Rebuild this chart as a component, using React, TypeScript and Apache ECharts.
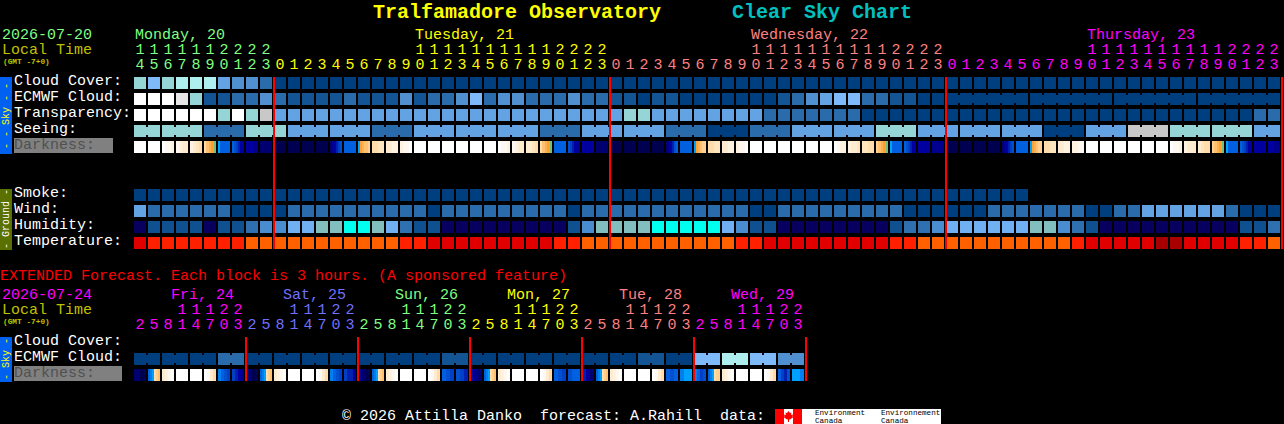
import React, { useEffect, useRef } from "react";
import * as echarts from "echarts";

const FONT = "'Liberation Mono', monospace";

const cloudPalette = ["#003f7f", "#135594", "#2a6bab", "#5090d0", "#63a3e3", "#7eb9f9", "#95d5d5", "#afeeee", "#c8c8c8", "#e6e6e6", "#ffffff"];
const humidityPalette = ["#08005f", "#0f5090", "#2f70b0", "#4a8cd0", "#70b0f2", "#82bebe", "#00ffee"];
const temperaturePalette = ["#a80000", "#e00000", "#ff2000", "#ff6000"];
const darknessPalette = ["#ffffff", "#fff8f0", "#fff2e0", "#ffecd0", "#ffe4c0", "#ffdcac", "#ffd090", "#ffc070", "#ffb050", "#ffa030", "#70c080", "#00a0ff", "#0080f0", "#0060e0", "#0050d0", "#0040c8", "#0020b0", "#0000a0", "#000090", "#000070", "#000050"];

const cloudCover = [6, 5, 6, 7, 7, 7, 4, 3, 3, 2,
  0, 0, 0, 0, 0, 0, 0, 0, 0, 0, 0, 0, 0, 0, 0, 0, 0, 0, 0, 0, 0, 0, 0, 0,
  0, 0, 0, 0, 0, 0, 0, 0, 0, 0, 0, 0, 0, 0, 0, 0, 0, 0, 0, 0, 0, 0, 0, 0,
  0, 0, 0, 0, 0, 0, 0, 0, 0, 0, 0, 0, 0, 0, 0, 0, 0, 0, 0, 0, 0, 0, 0, 0];
const ecmwfCloud = [10, 10, 10, 9, 6, 1, 1, 2, 2, 3,
  2, 1, 1, 1, 1, 2, 1, 1, 1, 3, 1, 2, 2, 3, 5, 2, 3, 3, 2, 2, 2, 3, 2, 2,
  1, 1, 0, 1, 1, 0, 0, 0, 0, 0, 0, 0, 1, 2, 3, 4, 5, 5, 2, 2, 1, 1, 0, 0,
  0, 0, 0, 0];
const ecmwfSpans = [1, 1, 1, 1, 1, 1, 1, 1, 1, 1,
  1, 1, 1, 1, 1, 1, 1, 1, 1, 1, 1, 1, 1, 1, 1, 1, 1, 1, 1, 1, 1, 1, 1, 1,
  1, 1, 1, 1, 1, 1, 1, 1, 1, 1, 1, 1, 1, 1, 1, 1, 1, 1, 1, 1, 1, 1, 1, 1,
  6, 6, 6, 6];
const transparency = [10, 10, 10, 10, 10, 10, 6, 10, 6, 8,
  4, 4, 4, 4, 4, 4, 4, 4, 4, 4, 4, 4, 4, 4, 4, 4, 4, 4, 4, 4, 4, 4, 4, 4,
  4, 6, 6, 4, 4, 4, 4, 4, 4, 4, 4, 2, 2, 2, 2, 2, 2, 2, 0, 0, 0, 0, 0, 0,
  0, 0, 0, 0, 0, 0, 0, 0, 0, 0, 0, 0, 0, 0, 0, 0, 0, 0, 0, 0, 0, 0, 2, 2];
const seeingBlocks = [6, 6, 2, 6, 4, 4, 2, 4, 4, 4, 2, 4, 4, 2, 0, 2, 4, 4, 6, 4, 4, 4, 0, 4, 8, 6, 6, 4];
const seeingSpans = [2, 3, 3, 3, 3, 3, 3, 3, 3, 3, 3, 3, 3, 3, 3, 3, 3, 3, 3, 3, 3, 3, 3, 3, 3, 3, 3, 2];
const smoke = [0, 0, 0, 0, 0, 0, 0, 0, 0, 0,
  0, 0, 0, 0, 0, 0, 0, 0, 0, 0, 0, 0, 0, 0, 0, 0, 0, 0, 0, 0, 0, 0, 0, 0,
  0, 0, 0, 0, 0, 0, 0, 0, 0, 0, 0, 0, 0, 0, 0, 0, 0, 0, 0, 0, 0, 0, 0, 0,
  0, 0, 0, 0, 0, 0];
const wind = [4, 2, 2, 2, 2, 2, 2, 0, 0, 0,
  0, 2, 2, 2, 2, 2, 2, 2, 2, 2, 2, 0, 2, 2, 2, 2, 2, 2, 2, 2, 2, 0, 2, 2,
  2, 2, 2, 2, 2, 2, 2, 2, 2, 2, 0, 0, 2, 2, 2, 2, 2, 2, 2, 2, 2, 0, 0, 0,
  0, 0, 0, 2, 2, 2, 2, 2, 2, 2, 0, 0, 2, 2, 4, 4, 4, 4, 4, 4, 2, 0, 0, 0];
const humidity = [0, 1, 1, 1, 1, 0, 1, 1, 2, 3,
  3, 4, 4, 5, 5, 6, 6, 5, 4, 2, 1, 1, 0, 0, 0, 0, 0, 0, 0, 0, 0, 1, 3, 5,
  5, 5, 5, 6, 6, 6, 6, 6, 4, 3, 1, 1, 0, 0, 0, 0, 0, 0, 0, 0, 1, 2, 2, 3,
  4, 4, 4, 4, 4, 4, 5, 5, 3, 2, 1, 0, 0, 0, 0, 0, 0, 0, 0, 0, 0, 1, 1, 2];
const temperature = [1, 2, 2, 2, 2, 2, 2, 2, 3, 3,
  3, 3, 3, 3, 3, 3, 3, 3, 3, 2, 2, 1, 1, 1, 1, 1, 1, 1, 1, 1, 2, 2, 3, 3,
  3, 3, 3, 3, 3, 3, 3, 3, 3, 2, 2, 1, 1, 1, 1, 1, 1, 1, 1, 1, 2, 2, 3, 3,
  3, 3, 3, 3, 3, 3, 3, 3, 3, 2, 1, 1, 1, 1, 1, 0, 0, 1, 1, 1, 1, 2, 2, 3];
const darkness = [
  [0], [0], [0, 1, 1, 2], [1, 2, 3, 3], [2, 3, 4, 5], [5, 7, 8, 9, 10], [11, 13, 13, 13, 13, 13], [13, 14, 15, 16, 17, 17], [17, 17, 18], [19],
  [20], [20], [20], [20], [19, 18, 17, 16, 15, 14], [13], [11, 9, 8, 7, 7, 6], [5, 5, 4, 4], [3, 3, 2, 2], [2, 1, 1, 0], [0], [0], [0], [0], [0], [0],
  [0, 1, 1, 2], [1, 2, 3, 3], [3, 3, 4, 5], [5, 7, 8, 9, 10], [13], [14, 15, 16, 17, 17, 18], [17], [19],
  [20], [20], [20], [20], [19, 18, 17, 16, 14, 13], [13], [11, 9, 8, 7, 6, 6], [5, 5, 4, 4], [3, 3, 2, 2], [2, 1, 1, 0], [0], [0], [0], [0], [0], [0],
  [0, 1, 2, 2], [2, 3, 3, 4], [4, 4, 5, 5], [6, 7, 8, 9, 10], [11, 13, 13, 13, 13, 13], [13, 14, 15, 16, 17, 17], [17], [18],
  [20], [20], [20], [20], [19, 18, 17, 16, 15, 14], [13], [11, 9, 8, 7, 6, 6], [5, 5, 4, 4], [3, 3, 2, 2], [2, 2, 1, 1], [0], [0], [0], [0], [0], [0],
  [0, 1, 1, 2], [2, 3, 3, 3], [3, 4, 5, 5], [6, 7, 8, 9, 10], [11, 13, 13, 13, 13, 13], [13, 14, 15, 16, 17, 17], [17], [17, 18],
];
const dayBoundaries = [10, 34, 58, 82];

const extEcmwf = [0, 0, 0, 2, 0, 0, 0, 0, 0, 0, 0, 1, 0, 0, 0, 0, 0, 0, 1, 0, 5, 7, 5, 3];
const extSpans = [2, 2, 2, 2, 2, 2, 2, 2, 2, 2, 2, 2, 2, 2, 2, 2, 2, 2, 2, 2, 2, 2, 2, 2];
const extDarkness = [
  [19, 20], [13, 12, 11, 5, 6, 7], [3, 2, 1, 0], [0], [0], [0, 1, 3, 5], [12, 13, 14, 15], [15, 16, 17, 18],
  [19, 20], [13, 12, 11, 5, 6, 7], [3, 2, 1, 0], [0], [0], [0, 1, 3, 5], [12, 13, 14, 15], [15, 16, 16, 17],
  [18, 19, 20], [13, 12, 11, 5, 6, 7], [3, 2, 1, 0], [0], [0], [0, 1, 3, 5], [13, 14, 15], [14, 15, 16],
  [17, 18, 19], [13, 12, 11, 5, 6, 7], [3, 2, 1, 0], [0], [0], [0, 1, 3, 5], [13, 14, 15], [14, 13, 13],
  [16, 17, 19], [13, 12, 11, 5, 6, 7], [3, 2, 1, 0], [0], [0], [0, 1, 3, 5], [13, 14, 13], [12, 11, 11],
  [12, 13, 15, 14], [13, 12, 11, 5, 6, 6], [3, 2, 1, 0], [0], [0], [0, 1, 3, 5], [13, 15, 16, 14], [11, 11, 12],
];
const extDayBoundaries = [8, 16, 24, 32, 40, 48];

const hourTens = ["1", "1", "1", "1", "1", "1", "2", "2", "2", "2",
  "", "", "", "", "", "", "", "", "", "", "1", "1", "1", "1", "1", "1", "1", "1", "1", "1", "2", "2", "2", "2",
  "", "", "", "", "", "", "", "", "", "", "1", "1", "1", "1", "1", "1", "1", "1", "1", "1", "2", "2", "2", "2",
  "", "", "", "", "", "", "", "", "", "", "1", "1", "1", "1", "1", "1", "1", "1", "1", "1", "2", "2", "2", "2"];
const hourOnes = ["4", "5", "6", "7", "8", "9", "0", "1", "2", "3",
  "0", "1", "2", "3", "4", "5", "6", "7", "8", "9", "0", "1", "2", "3", "4", "5", "6", "7", "8", "9", "0", "1", "2", "3",
  "0", "1", "2", "3", "4", "5", "6", "7", "8", "9", "0", "1", "2", "3", "4", "5", "6", "7", "8", "9", "0", "1", "2", "3",
  "0", "1", "2", "3", "4", "5", "6", "7", "8", "9", "0", "1", "2", "3", "4", "5", "6", "7", "8", "9", "0", "1", "2", "3"];
const dayNames = ["Monday, 20", "Tuesday, 21", "Wednesday, 22", "Thursday, 23"];
const dayStarts = [0, 20, 44, 68];
const dayColumnStarts = [0, 10, 34, 58, 82];
const dayColors = ["#80ff80", "#ffff00", "#ff8080", "#ff00ff"];

const extDayNames = ["Fri, 24", "Sat, 25", "Sun, 26", "Mon, 27", "Tue, 28", "Wed, 29"];
const extDayColors = ["#ff00ff", "#7070ff", "#80ff80", "#ffff00", "#ff8080", "#ff00ff"];
const extTens = ["", "", "", "1", "1", "1", "2", "2"];
const extOnes = ["2", "5", "8", "1", "4", "7", "0", "3"];

const mainLabels = ["Cloud Cover:", "ECMWF Cloud:", "Transparency:", "Seeing:"];
const groundLabels = ["Smoke:", "Wind:", "Humidity:", "Temperature:"];

function expand(values: number[], spans: number[]) {
  const out: { v: number; join: boolean }[] = [];
  values.forEach((v, i) => {
    for (let k = 0; k < spans[i]; k++) out.push({ v, join: k < spans[i] - 1 });
  });
  return out;
}

function blockSeries(grid: number, row: number, cells: { v: number; join: boolean }[], palette: string[]) {
  return {
    type: "custom",
    xAxisIndex: grid,
    yAxisIndex: grid,
    silent: true,
    encode: { x: 0, y: 1 },
    data: cells.map((c, i) => [i, row, c.v, c.join ? 1 : 0]),
    renderItem: (_p: any, api: any) => {
      const [x, y] = api.coord([api.value(0), api.value(1)]);
      const [w, h] = api.size([1, 1]);
      const fill = palette[api.value(2)];
      const children: any[] = [
        { type: "rect", shape: { x, y: y + 2, width: w - 2, height: h - 4 }, style: { fill } },
      ];
      if (api.value(3)) {
        children.push({ type: "rect", shape: { x: x + w - 2, y: y + 4, width: 2, height: h - 8 }, style: { fill } });
      }
      return { type: "group", children };
    },
  };
}

function plain(values: number[]) {
  return values.map((v) => ({ v, join: false }));
}

function darknessSeries(grid: number, row: number, cells: number[][]) {
  return {
    type: "custom",
    xAxisIndex: grid,
    yAxisIndex: grid,
    silent: true,
    encode: { x: 0, y: 1 },
    data: cells.map((_c, i) => [i, row]),
    renderItem: (_p: any, api: any) => {
      const col = api.value(0);
      const [x, y] = api.coord([col, api.value(1)]);
      const [w, h] = api.size([1, 1]);
      const strips = cells[col];
      const stops: any[] = [];
      strips.forEach((lv, i) => {
        stops.push({ offset: i / strips.length, color: darknessPalette[lv] });
        stops.push({ offset: (i + 1) / strips.length, color: darknessPalette[lv] });
      });
      const fill = strips.length === 1
        ? darknessPalette[strips[0]]
        : new echarts.graphic.LinearGradient(0, 0, 1, 0, stops);
      return { type: "rect", shape: { x, y: y + 2, width: w - 2, height: h - 4 }, style: { fill } };
    },
  };
}

function boundarySeries(grid: number, rows: number, cols: number[]) {
  return {
    type: "custom",
    xAxisIndex: grid,
    yAxisIndex: grid,
    silent: true,
    z: 5,
    encode: { x: 0 },
    data: cols.map((c) => [c]),
    renderItem: (_p: any, api: any) => {
      const [x, top] = api.coord([api.value(0), 0]);
      const [, bottom] = api.coord([api.value(0), rows]);
      return { type: "rect", shape: { x: x - 1, y: top + 2, width: 2, height: bottom - top - 4 }, style: { fill: "#ff0000" } };
    },
  };
}

function txt(text: string, x: number, y: number, fill: string, size = 15, extra: any = {}) {
  return {
    type: "text",
    x,
    y,
    silent: true,
    rotation: extra.rotation || 0,
    style: {
      text,
      fill,
      font: `${extra.bold ? "bold " : ""}${size}px ${FONT}`,
      textAlign: extra.align || "left",
      textVerticalAlign: "middle",
    },
  };
}

function headerTexts() {
  const out: any[] = [];
  const left = 134, step = 14;
  out.push(txt("Tralfamadore Observatory", 373, 12, "#ffff00", 20, { bold: true }));
  out.push(txt("Clear Sky Chart", 732, 12, "#00c0c0", 20, { bold: true }));
  out.push(txt("2026-07-20", 2, 35, "#80ff80"));
  out.push(txt("Local Time", 2, 50, "#c0c000"));
  out.push(txt("(GMT -7+0)", 3, 62, "#c0c000", 7.8, { bold: true }));
  dayNames.forEach((d, i) => out.push(txt(d, left + step * dayStarts[i] + 1, 35, dayColors[i])));
  hourOnes.forEach((h, i) => {
    const day = dayColumnStarts.findIndex((s, k) => i >= s && i < dayColumnStarts[k + 1]);
    const cx = left + step * i + 6;
    if (hourTens[i]) out.push(txt(hourTens[i], cx, 50, dayColors[day], 15, { align: "center" }));
    out.push(txt(h, cx, 65, dayColors[day], 15, { align: "center" }));
  });
  out.push({ type: "rect", silent: true, shape: { x: 0, y: 77, width: 12, height: 77 }, style: { fill: "#0060f0" } });
  out.push(txt("- - Sky - -", 6, 116, "#ffff00", 10, { align: "center", rotation: Math.PI / 2 }));
  out.push({ type: "rect", silent: true, shape: { x: 0, y: 189, width: 12, height: 61 }, style: { fill: "#5a7000" } });
  out.push(txt("- Ground -", 6, 219, "#ffffff", 10, { align: "center", rotation: Math.PI / 2 }));
  mainLabels.forEach((l, i) => out.push(txt(l, 14, 81 + 16 * i, "#ffffff")));
  out.push({ type: "rect", silent: true, shape: { x: 14, y: 138, width: 99, height: 15 }, style: { fill: "#808080" } });
  out.push(txt("Darkness:", 14, 145, "#505050"));
  groundLabels.forEach((l, i) => out.push(txt(l, 14, 193 + 16 * i, "#ffffff")));

  out.push(txt("EXTENDED Forecast. Each block is 3 hours. (A sponsored feature)", 0, 276, "#ff0000"));
  out.push(txt("2026-07-24", 2, 295, "#ff00ff"));
  out.push(txt("Local Time", 2, 310, "#c0c000"));
  out.push(txt("(GMT -7+0)", 3, 322, "#c0c000", 7.8, { bold: true }));
  extDayNames.forEach((d, day) => {
    out.push(txt(d, left + step * 8 * day + 37, 295, extDayColors[day]));
    extOnes.forEach((h, i) => {
      const cx = left + step * (8 * day + i) + 6;
      if (extTens[i]) out.push(txt(extTens[i], cx, 310, extDayColors[day], 15, { align: "center" }));
      out.push(txt(h, cx, 325, extDayColors[day], 15, { align: "center" }));
    });
  });
  out.push({ type: "rect", silent: true, shape: { x: 0, y: 337, width: 12, height: 45 }, style: { fill: "#0060f0" } });
  out.push(txt("- Sky -", 6, 359, "#ffff00", 10, { align: "center", rotation: Math.PI / 2 }));
  out.push(txt("Cloud Cover:", 14, 341, "#ffffff"));
  out.push(txt("ECMWF Cloud:", 14, 357, "#ffffff"));
  out.push({ type: "rect", silent: true, shape: { x: 14, y: 366, width: 108, height: 15 }, style: { fill: "#808080" } });
  out.push(txt("Darkness:", 14, 373, "#505050"));

  out.push(txt("\u00a9 2026 Attilla Danko  forecast: A.Rahill  data:", 342, 416, "#ffffff"));
  out.push({ type: "rect", silent: true, shape: { x: 775, y: 409, width: 166, height: 15 }, style: { fill: "#ffffff" } });
  out.push({ type: "rect", silent: true, shape: { x: 775, y: 409, width: 9, height: 15 }, style: { fill: "#ff0000" } });
  out.push({ type: "rect", silent: true, shape: { x: 793, y: 409, width: 9, height: 15 }, style: { fill: "#ff0000" } });
  out.push({
    type: "polygon",
    silent: true,
    shape: { points: [[788.5, 411], [790, 413], [791.5, 412.5], [791, 415], [793, 414.5], [792.5, 416.5], [793.5, 417], [790, 419.5], [789, 419.5], [789, 422], [788, 422], [788, 419.5], [787, 419.5], [783.5, 417], [784.5, 416.5], [784, 414.5], [786, 415], [785.5, 412.5], [787, 413]] },
    style: { fill: "#ff0000" },
  });
  out.push(txt("Environment", 815, 413, "#000000", 7.6));
  out.push(txt("Canada", 815, 420.5, "#000000", 7.6));
  out.push(txt("Environnement", 881, 413, "#000000", 7.6));
  out.push(txt("Canada", 881, 420.5, "#000000", 7.6));
  return out;
}

export default function App() {
  const ref = useRef<HTMLDivElement>(null);
  useEffect(() => {
    document.body.style.margin = "0";
    document.body.style.background = "#000";
    const chart = echarts.init(ref.current!, undefined, { renderer: "svg" });
    const hiddenX = (max: number, gridIndex: number) => ({ type: "value", min: 0, max, show: false, gridIndex, splitLine: { show: false } });
    const hiddenY = (max: number, gridIndex: number) => ({ type: "value", min: 0, max, inverse: true, show: false, gridIndex, splitLine: { show: false } });
    chart.setOption({
      animation: false,
      backgroundColor: "#000000",
      grid: [
        { left: 134, top: 75, width: 1148, height: 176 },
        { left: 134, top: 335, width: 672, height: 48 },
      ],
      xAxis: [hiddenX(82, 0), hiddenX(48, 1)],
      yAxis: [hiddenY(11, 0), hiddenY(3, 1)],
      graphic: { elements: headerTexts() },
      series: [
        blockSeries(0, 0, plain(cloudCover), cloudPalette),
        blockSeries(0, 1, expand(ecmwfCloud, ecmwfSpans), cloudPalette),
        blockSeries(0, 2, plain(transparency), cloudPalette),
        blockSeries(0, 3, expand(seeingBlocks, seeingSpans), cloudPalette),
        darknessSeries(0, 4, darkness),
        blockSeries(0, 7, plain(smoke), cloudPalette),
        blockSeries(0, 8, plain(wind), cloudPalette),
        blockSeries(0, 9, plain(humidity), humidityPalette),
        blockSeries(0, 10, plain(temperature), temperaturePalette),
        boundarySeries(0, 11, dayBoundaries),
        blockSeries(1, 1, expand(extEcmwf, extSpans), cloudPalette),
        darknessSeries(1, 2, extDarkness),
        boundarySeries(1, 3, extDayBoundaries),
      ],
    });
    return () => chart.dispose();
  }, []);
  return <div ref={ref} style={{ position: "absolute", left: 0, top: 0, width: 1284, height: 424 }} />;
}
